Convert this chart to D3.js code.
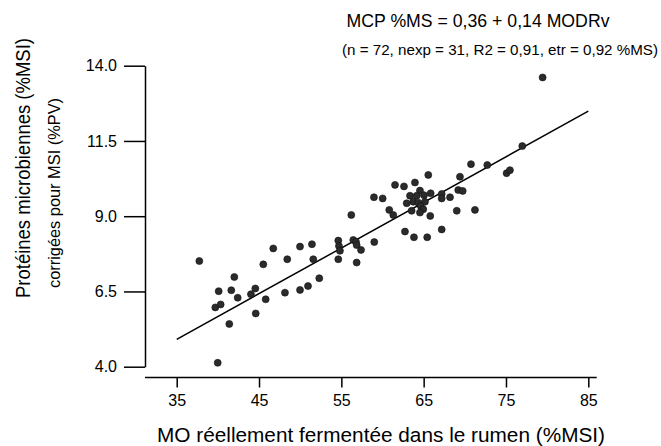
<!DOCTYPE html>
<html>
<head>
<meta charset="utf-8">
<script src="https://cdn.jsdelivr.net/npm/d3@7"></script>
<style>
  html, body { margin: 0; padding: 0; background: #fff; }
  svg { display: block; font-family: "Liberation Sans", Arial, sans-serif; }
</style>
</head>
<body>
<svg id="chart" width="661" height="446"></svg>
<script>
// ---- data ----
const modrX = [37.75, 39.98, 40.10, 39.69, 40.34, 41.63, 42.00, 42.41, 41.39, 44.02,
  44.55, 44.60, 45.81, 45.52, 46.73, 48.43, 48.15, 49.98, 51.43, 51.59,
  49.98, 50.95, 52.32, 54.63, 54.71, 54.83, 54.63, 56.21, 56.45, 56.78,
  56.86, 57.39, 56.86, 59.00, 58.96, 60.02, 60.82, 61.31, 61.52, 62.61,
  63.94, 65.56, 69.41, 70.75, 72.73, 75.08, 75.48, 76.98, 79.45, 69.20,
  69.74, 64.55, 63.34, 64.15, 65.04, 65.85, 67.19, 67.19, 68.20, 62.94,
  63.74, 64.35, 65.16, 64.64, 64.95, 63.54, 64.55, 65.80, 69.02, 71.23,
  62.73, 63.82, 65.43, 67.19];
const mcpY = [7.51, 4.13, 6.51, 5.97, 6.07, 6.54, 6.98, 6.29, 5.42, 6.41,
  6.60, 5.77, 6.24, 7.40, 7.93, 7.57, 6.46, 7.99, 8.07, 7.57,
  6.55, 6.68, 6.94, 8.19, 8.01, 7.85, 7.57, 9.04, 8.21, 8.15,
  8.04, 7.88, 7.46, 8.14, 9.63, 9.59, 9.21, 9.04, 10.04, 9.99,
  10.12, 10.37, 10.31, 10.73, 10.70, 10.43, 10.53, 11.33, 13.61, 9.87,
  9.84, 9.85, 9.68, 9.68, 9.70, 9.76, 9.74, 9.59, 9.63, 9.43,
  9.48, 9.45, 9.48, 9.34, 9.23, 9.18, 9.12, 9.01, 9.18, 9.21,
  8.49, 8.30, 8.30, 8.56];
const fitX = [35, 85];
const fitY = [4.91, 12.49];
const xTicks = [35, 45, 55, 65, 75, 85];
const yTicks = [4.0, 6.5, 9.0, 11.5, 14.0];
const titleLine1 = "MCP %MS = 0,36 + 0,14 MODRv";
const titleLine2 = "(n = 72, nexp = 31, R2 = 0,91, etr = 0,92 %MS)";
const xTitle = "MO réellement fermentée dans le rumen (%MSI)";
const yTitle1 = "Protéines microbiennes (%MSI)";
const yTitle2 = "corrigées pour MSI (%PV)";

// ---- layout ----
const svg = d3.select("#chart");
const x = d3.scaleLinear().domain([35, 85]).range([176.7, 588.3]);
const y = d3.scaleLinear().domain([4, 14]).range([366.7, 65.7]);
const yAxisX = 145, xAxisY = 377.5, xAxisEnd = 596.7;

// y axis
const gy = svg.append("g").attr("transform", `translate(${yAxisX},0)`)
  .call(d3.axisLeft(y).tickValues(yTicks).tickSize(21).tickSizeOuter(0)
    .tickFormat(d3.format(".1f")));
gy.select(".domain").attr("stroke", "#000").attr("stroke-width", 1.5);
gy.selectAll(".tick line").attr("stroke", "#000").attr("stroke-width", 1.5);
gy.selectAll(".tick text").attr("x", -28).attr("font-size", 16)
  .attr("fill", "#000").attr("font-family", "Liberation Sans, Arial, sans-serif");

// x axis
const gx = svg.append("g").attr("transform", `translate(0,${xAxisY})`)
  .call(d3.axisBottom(x).tickValues(xTicks).tickSize(10).tickSizeOuter(0)
    .tickFormat(d3.format("d")));
gx.select(".domain").remove();
gx.append("line").attr("x1", yAxisX).attr("x2", xAxisEnd).attr("y1", 0).attr("y2", 0)
  .attr("stroke", "#000").attr("stroke-width", 1.5);
gx.selectAll(".tick line").attr("stroke", "#000").attr("stroke-width", 1.5);
gx.selectAll(".tick text").attr("y", 17).attr("font-size", 16)
  .attr("fill", "#000").attr("font-family", "Liberation Sans, Arial, sans-serif");

// regression line
svg.append("line")
  .attr("x1", x(fitX[0])).attr("y1", y(fitY[0]))
  .attr("x2", x(fitX[1])).attr("y2", y(fitY[1]))
  .attr("stroke", "#000").attr("stroke-width", 1.5);

// points
svg.append("g").selectAll("circle")
  .data(modrX.map((v, i) => [v, mcpY[i]]))
  .join("circle")
  .attr("cx", d => x(d[0])).attr("cy", d => y(d[1]))
  .attr("r", 3.5)
  .attr("fill", "#2b2b2b").attr("stroke", "#111").attr("stroke-width", 0.6);

// titles
svg.append("text").attr("x", 478).attr("y", 27).attr("text-anchor", "middle")
  .attr("font-size", 17.5).attr("textLength", 263).attr("lengthAdjust", "spacingAndGlyphs")
  .text(titleLine1);
svg.append("text").attr("x", 500).attr("y", 55).attr("text-anchor", "middle")
  .attr("font-size", 15).attr("textLength", 316).attr("lengthAdjust", "spacingAndGlyphs")
  .text(titleLine2);
svg.append("text").attr("x", 381).attr("y", 442).attr("text-anchor", "middle")
  .attr("font-size", 20.5).attr("textLength", 448).attr("lengthAdjust", "spacingAndGlyphs")
  .text(xTitle);
svg.append("text").attr("transform", "translate(29.5,168) rotate(-90)")
  .attr("text-anchor", "middle")
  .attr("font-size", 19.5).attr("textLength", 260).attr("lengthAdjust", "spacingAndGlyphs")
  .text(yTitle1);
svg.append("text").attr("transform", "translate(60,193) rotate(-90)")
  .attr("text-anchor", "middle")
  .attr("font-size", 16.5).attr("textLength", 190).attr("lengthAdjust", "spacingAndGlyphs")
  .text(yTitle2);
</script>
</body>
</html>
